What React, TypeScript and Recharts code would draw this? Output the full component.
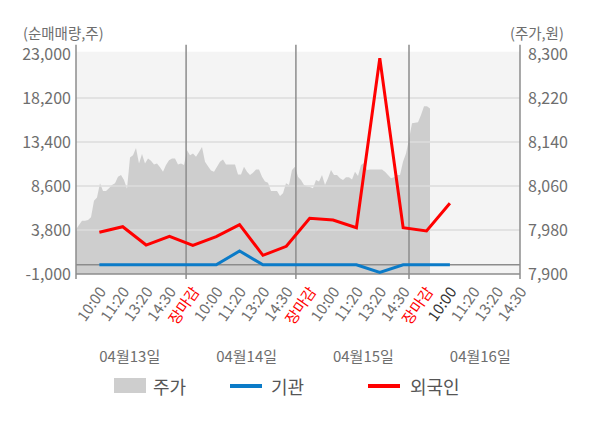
// 순매매량(기관·외국인) + 주가 영역 차트
import {
  Area,
  ComposedChart,
  Line,
  ReferenceArea,
  ReferenceDot,
  ReferenceLine,
  XAxis,
  YAxis,
} from "recharts";

const FONT = "'Noto Sans CJK KR', 'Noto Sans', sans-serif";
const TEXT = "#6e6e6e";
const FRAME = "#8c8c8c";
const GRID = "#dcdcdc";
const AREA = "#cecece";
const BLUE = "#0b7bc8";
const RED = "#ff0000";

// x축 시각 라벨 (장마감 포함)
const TIME_LABELS = [
  "10:00", "11:20", "13:20", "14:30", "장마감",
  "10:00", "11:20", "13:20", "14:30", "장마감",
  "10:00", "11:20", "13:20", "14:30", "장마감",
  "10:00", "11:20", "13:20", "14:30",
];
// 외국인 / 기관 순매매량(주)
const FOREIGN = [
  3550, 4160, 2160, 3110, 2130, 3070, 4380, 1040, 2020, 5080, 4890, 4050,
  22530, 4050, 3690, 6710, null, null, null,
];
const INSTITUTION = [
  0, 0, 0, 0, 0, 0, 1510, 0, 0, 0, 0, 0, -820, 0, 0, 0, null, null, null,
];
// 주가(원) 분 단위 샘플
const PRICE = [
  7981, 7989, 7997, 7997, 7998, 8003, 8033, 8039, 8065, 8051, 8051, 8056,
  8062, 8065, 8077, 8080, 8071, 8055, 8112, 8116, 8129, 8101, 8118, 8101,
  8110, 8106, 8099, 8101, 8094, 8086,
  8098, 8107, 8110, 8110, 8099, 8101, 8098, 8125, 8116, 8119, 8113, 8122,
  8131, 8104, 8096, 8088, 8086, 8095, 8104, 8108, 8099, 8099, 8099, 8099,
  8081, 8081, 8095, 8086, 8080, 8084,
  8090, 8090, 8077, 8068, 8066, 8051, 8051, 8051, 8042, 8047, 8065, 8062,
  8089, 8095, 8077, 8071, 8062, 8059, 8058, 8056, 8071, 8068, 8080, 8062,
  8074, 8089, 8080, 8080, 8074, 8071,
  8076, 8076, 8072, 8086, 8078, 8098, 8102, 8089, 8090, 8090, 8090, 8090,
  8090, 8086, 8080, 8074, 8076, 8080, 8080, 8104, 8119, 8145, 8174, 8175,
  8176, 8189, 8205, 8205, 8201,
];
const PRICE_SLOTS = 148; // 4일치 슬롯 수
const DAY_BREAKS = [36.7, 73.3, 111]; // 날짜 경계(슬롯)
const DATE_LABELS = ["04월13일", "04월14일", "04월15일", "04월16일"];
const DATE_TICKS = [1.3, 6.3, 11.3, 16.3];
const LEFT_TICKS = [-1000, 3800, 8600, 13400, 18200, 23000];
const RIGHT_TICKS = [7900, 7980, 8060, 8140, 8220, 8300];
const LEGEND = [
  { name: "주가", color: AREA, kind: "box" },
  { name: "기관", color: BLUE, kind: "line" },
  { name: "외국인", color: RED, kind: "line" },
];

const lineData = TIME_LABELS.map((_, i) => ({
  t: i,
  foreign: FOREIGN[i],
  inst: INSTITUTION[i],
}));
const priceData = PRICE.map((price, i) => ({ i, price }));

const fmt = (v: number) => v.toLocaleString("en-US");

function TimeTick({ x, y, payload }: any) {
  const i = payload.value as number;
  const label = TIME_LABELS[i];
  const color = label === "장마감" ? RED : i === 15 ? "#333333" : TEXT;
  const ax = x + 2;
  const ay = y + 14;
  return (
    <text
      x={ax}
      y={ay}
      transform={`rotate(-55 ${ax} ${ay})`}
      textAnchor="end"
      dominantBaseline="central"
      fill={color}
      fontSize={15}
      fontFamily={FONT}
    >
      {label}
    </text>
  );
}

export default function App() {
  const frameXs = [0, ...DAY_BREAKS, PRICE_SLOTS];
  return (
    <div
      style={{
        position: "absolute",
        left: 0,
        top: 0,
        width: 600,
        height: 428,
        background: "#fff",
        fontFamily: FONT,
      }}
    >
      <span
        style={{ position: "absolute", left: 23, top: 24, fontSize: 14.5, lineHeight: "18px", color: TEXT }}
      >
        (순매매량,주)
      </span>
      <span
        style={{ position: "absolute", left: 510, top: 24, fontSize: 14.5, lineHeight: "18px", color: TEXT }}
      >
        (주가,원)
      </span>
      <ComposedChart
        width={600}
        height={428}
        margin={{ top: 54, right: 0, bottom: 54, left: 0 }}
        style={{ fontFamily: FONT }}
      >
        <XAxis
          xAxisId="t"
          dataKey="t"
          type="number"
          domain={[-1, 18]}
          ticks={TIME_LABELS.map((_, i) => i)}
          interval={0}
          allowDataOverflow
          height={100}
          axisLine={false}
          tickLine={false}
          tickSize={0}
          tickMargin={0}
          tick={<TimeTick />}
        />
        <XAxis
          xAxisId="p"
          dataKey="i"
          type="number"
          domain={[0, PRICE_SLOTS]}
          allowDataOverflow
          orientation="top"
          hide
        />
        <YAxis
          yAxisId="left"
          domain={[-1000, 23000]}
          ticks={LEFT_TICKS}
          interval={0}
          allowDataOverflow
          width={76}
          axisLine={false}
          tickLine={false}
          tickSize={0}
          tickMargin={5}
          tickFormatter={fmt}
          tick={{ fill: TEXT, fontSize: 16, fontFamily: FONT }}
        />
        <YAxis
          yAxisId="right"
          orientation="right"
          domain={[7900, 8300]}
          ticks={RIGHT_TICKS}
          interval={0}
          allowDataOverflow
          width={80}
          axisLine={false}
          tickLine={false}
          tickSize={0}
          tickMargin={8}
          tickFormatter={fmt}
          tick={{ fill: TEXT, fontSize: 16, fontFamily: FONT, textAnchor: "start" }}
        />
        <ReferenceArea
          xAxisId="p"
          yAxisId="left"
          x1={0}
          x2={PRICE_SLOTS}
          y1={-1000}
          y2={23250}
          fill="#f4f4f4"
          fillOpacity={1}
          stroke="none"
          ifOverflow="visible"
        />
        <Area
          xAxisId="p"
          yAxisId="right"
          data={priceData}
          dataKey="price"
          type="linear"
          fill={AREA}
          fillOpacity={1}
          stroke="none"
          isAnimationActive={false}
        />
        {LEFT_TICKS.filter((v) => v > -1000 && v < 23000).map((v) => (
          <ReferenceLine key={v} xAxisId="t" yAxisId="left" y={v} stroke={GRID} strokeWidth={1.5} />
        ))}
        <ReferenceLine xAxisId="t" yAxisId="left" y={0} stroke={FRAME} strokeWidth={1.5} />
        <ReferenceLine xAxisId="t" yAxisId="left" y={-1000} stroke={FRAME} strokeWidth={1.5} />
        {frameXs.map((x) => (
          <ReferenceLine
            key={x}
            xAxisId="p"
            yAxisId="left"
            segment={[
              { x, y: 24000 },
              { x, y: -1550 },
            ]}
            stroke={FRAME}
            strokeWidth={1.5}
            ifOverflow="visible"
          />
        ))}
        {DATE_TICKS.map((x, k) => (
          <ReferenceDot
            key={x}
            xAxisId="t"
            yAxisId="left"
            x={x}
            y={-1000}
            ifOverflow="visible"
            shape={(p: any) => (
              <text
                x={p.cx}
                y={p.cy + 81}
                textAnchor="middle"
                dominantBaseline="central"
                fill={TEXT}
                fontSize={15}
                fontFamily={FONT}
              >
                {DATE_LABELS[k]}
              </text>
            )}
          />
        ))}
        <Line
          xAxisId="t"
          yAxisId="left"
          data={lineData}
          dataKey="inst"
          type="linear"
          stroke={BLUE}
          strokeWidth={3}
          dot={false}
          isAnimationActive={false}
        />
        <Line
          xAxisId="t"
          yAxisId="left"
          data={lineData}
          dataKey="foreign"
          type="linear"
          stroke={RED}
          strokeWidth={3}
          dot={false}
          isAnimationActive={false}
        />
      </ComposedChart>
      {LEGEND.map((item, k) => {
        const left = [114, 230, 368][k];
        const textLeft = [153, 271, 410][k];
        return (
          <div key={item.name}>
            <div
              style={{
                position: "absolute",
                left,
                top: item.kind === "box" ? 378 : 384,
                width: 32,
                height: item.kind === "box" ? 15 : 4,
                background: item.color,
              }}
            />
            <span
              style={{
                position: "absolute",
                left: textLeft,
                top: 375,
                fontSize: 18,
                lineHeight: "22px",
                color: "#555",
              }}
            >
              {item.name}
            </span>
          </div>
        );
      })}
    </div>
  );
}
